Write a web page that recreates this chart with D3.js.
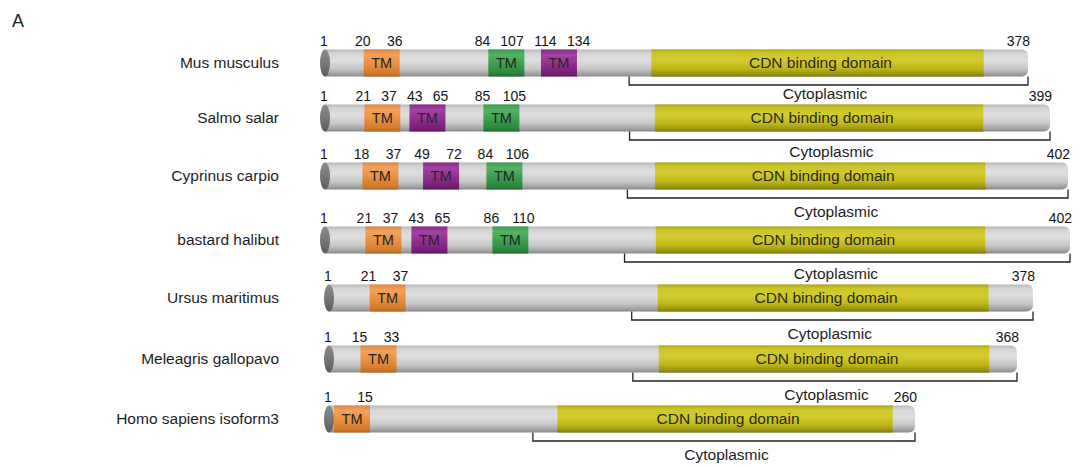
<!DOCTYPE html>
<html>
<head>
<meta charset="utf-8">
<script src="https://cdn.jsdelivr.net/npm/d3@7"></script>
<style>
  body { margin: 0; background: #fff; }
  svg { display: block; font-family: "Liberation Sans", Arial, sans-serif; }
</style>
</head>
<body>
<script>
// Protein architecture per species (residue numbers)
const species = ["Mus musculus", "Salmo salar", "Cyprinus carpio", "bastard halibut",
                 "Ursus maritimus", "Meleagris gallopavo", "Homo sapiens isoform3"];
const lengths = [378, 399, 402, 402, 378, 368, 260];
const tmStarts = [[20, 84, 114], [21, 43, 85], [18, 49, 84], [21, 43, 86], [21], [15], [1]];
const tmEnds   = [[36, 107, 134], [37, 65, 105], [37, 72, 106], [37, 65, 110], [37], [33], [15]];
const tmKinds  = [["tmA", "tmB", "tmC"], ["tmA", "tmC", "tmB"], ["tmA", "tmC", "tmB"],
                  ["tmA", "tmC", "tmB"], ["tmA"], ["tmA"], ["tmA"]];
const cdnStarts  = [174, 180, 177, 177, 175, 175, 100];
const cdnEnds    = [354, 362, 357, 356, 354, 353, 250];
const cytoStarts = [162, 166, 162, 160, 161, 161, 89];

// Layout
const W = 1081, H = 466;
const rowY = [63, 118, 176, 240, 298, 359, 419];           // vertical centre of each row
const capX = [325, 325, 325, 325, 329, 329, 329];          // centre of the left end cap
const axisEnd = [1028, 1050, 1068, 1070, 1033, 1017, 915]; // pixel end of each row's axis
const capR = 5, barH = 27, endR = 6;
const tmW = 36;        // TM segments are drawn as fixed-width glyphs centred on the helix
const numFont = 14;

const svg = d3.select("body").append("svg").attr("width", W).attr("height", H);
const defs = svg.append("defs");

const gradients = {
  body: [[0, "#b8b8b8"], [0.15, "#d6d6d6"], [0.4, "#dedede"], [0.7, "#c8c8c8"], [0.9, "#a2a2a2"], [1, "#888888"]],
  cdn:  [[0, "#b0aa10"], [0.15, "#cdc62a"], [0.4, "#d3cb30"], [0.7, "#c0b81a"], [0.9, "#9c9612"], [1, "#807a0c"]],
  tmA:  [[0, "#de8840"], [0.2, "#f2a25c"], [0.5, "#ec9244"], [0.85, "#d47c2e"], [1, "#b86a22"]],
  tmB:  [[0, "#3a9a4a"], [0.2, "#54b264"], [0.5, "#40a050"], [0.85, "#2e883e"], [1, "#236e30"]],
  tmC:  [[0, "#882a86"], [0.2, "#a242a2"], [0.5, "#943092"], [0.85, "#7a2078"], [1, "#621860"]],
  cap:  [[0, "#8c8c8c"], [0.5, "#777777"], [1, "#5c5c5c"]]
};
Object.entries(gradients).forEach(([id, stops]) => {
  const g = defs.append("linearGradient").attr("id", "g-" + id)
    .attr("x1", 0).attr("y1", 0).attr("x2", 0).attr("y2", 1);
  stops.forEach(([o, c]) => g.append("stop").attr("offset", o).attr("stop-color", c));
});

// Panel letter
svg.append("text").attr("x", 12).attr("y", 27).attr("font-size", 18).attr("fill", "#222").text("A");

const y = d3.scaleOrdinal().domain(species).range(rowY);

// approximate rendered width of a number label
const numWidth = v => String(v).length * numFont * 0.556;

// push overlapping labels apart, keeping them in order
function spread(labels, gap) {
  for (let pass = 0; pass < 20; pass++) {
    let moved = false;
    for (let k = 1; k < labels.length; k++) {
      const a = labels[k - 1], b = labels[k];
      const need = (a.w + b.w) / 2 + gap;
      const d = b.x - a.x;
      if (d < need - 0.01) {
        const shift = (need - d) / 2;
        if (k - 1 === 0) { b.x += 2 * shift; } else { a.x -= shift; b.x += shift; }
        moved = true;
      }
    }
    if (!moved) break;
  }
  return labels;
}

species.forEach((name, i) => {
  const len = lengths[i];
  const x = d3.scaleLinear().domain([0, len]).range([capX[i] + capR, axisEnd[i]]);
  const cy = y(name);
  const top = cy - barH / 2, bottom = cy + barH / 2;
  const nextTop = i < species.length - 1 ? y(species[i + 1]) - barH / 2 : Infinity;
  const g = svg.append("g");

  // species name
  g.append("text").attr("x", 279).attr("y", cy).attr("dy", "0.35em")
    .attr("text-anchor", "end").attr("font-size", 15.5).attr("fill", "#1e1e1e").text(name);

  // grey protein body, rounded at the C-terminal end
  const x0 = capX[i], xe = x(len);
  g.append("path").attr("fill", "url(#g-body)")
    .attr("d", `M${x0},${top} H${xe - endR} A${endR},${endR} 0 0 1 ${xe},${top + endR}
                V${bottom - endR} A${endR},${endR} 0 0 1 ${xe - endR},${bottom} H${x0} Z`);

  // CDN binding domain
  const cdnMid = (x(cdnStarts[i]) + x(cdnEnds[i])) / 2;
  g.append("rect").attr("x", x(cdnStarts[i])).attr("y", top)
    .attr("width", x(cdnEnds[i]) - x(cdnStarts[i])).attr("height", barH)
    .attr("fill", "url(#g-cdn)");
  g.append("text").attr("x", cdnMid + 3).attr("y", cy).attr("dy", "0.35em")
    .attr("text-anchor", "middle").attr("font-size", 15.5).attr("fill", "#2a2a10")
    .text("CDN binding domain");

  // transmembrane segments
  const labels = [{ v: 1, x: x0 - 1, w: numWidth(1) }];
  tmStarts[i].forEach((s, j) => {
    const e = tmEnds[i][j];
    const cx = x((s + e) / 2);
    const left = Math.max(cx - tmW / 2, x0 + capR);
    const right = left + tmW;
    g.append("rect").attr("x", left).attr("y", top).attr("width", tmW).attr("height", barH)
      .attr("fill", `url(#g-${tmKinds[i][j]})`);
    g.append("text").attr("x", (left + right) / 2).attr("y", cy).attr("dy", "0.35em")
      .attr("text-anchor", "middle").attr("font-size", 14.5).attr("fill", "#262626").text("TM");
    if (s !== 1) labels.push({ v: s, x: left - 1, w: numWidth(s) });
    labels.push({ v: e, x: right - 5, w: numWidth(e) });
  });

  // N-terminal end cap
  g.append("ellipse").attr("cx", x0).attr("cy", cy).attr("rx", capR).attr("ry", barH / 2)
    .attr("fill", "url(#g-cap)");

  // residue numbers above the bar
  const numY = top - 4;
  spread(labels, 10).forEach(l => {
    g.append("text").attr("x", l.x).attr("y", numY).attr("text-anchor", "middle")
      .attr("font-size", numFont).attr("fill", "#151515").text(l.v);
  });
  g.append("text").attr("x", xe + 2).attr("y", numY).attr("text-anchor", "end")
    .attr("font-size", numFont).attr("fill", "#151515").text(len);

  // cytoplasmic region bracket, label set between the bracket and the next row
  const bY = bottom + 8.5;
  const bracketMid = (x(cytoStarts[i]) + xe) / 2;
  g.append("path").attr("fill", "none").attr("stroke", "#222").attr("stroke-width", 1.3)
    .attr("d", `M${x(cytoStarts[i])},${bottom} V${bY} H${xe} V${bottom}`);
  g.append("text").attr("x", (bracketMid + cdnMid) / 2 + 2)
    .attr("y", Math.min(cy + 40.5, nextTop - 6))
    .attr("text-anchor", "middle").attr("font-size", 15.5).attr("fill", "#1e1e1e").text("Cytoplasmic");
});
</script>
</body>
</html>
